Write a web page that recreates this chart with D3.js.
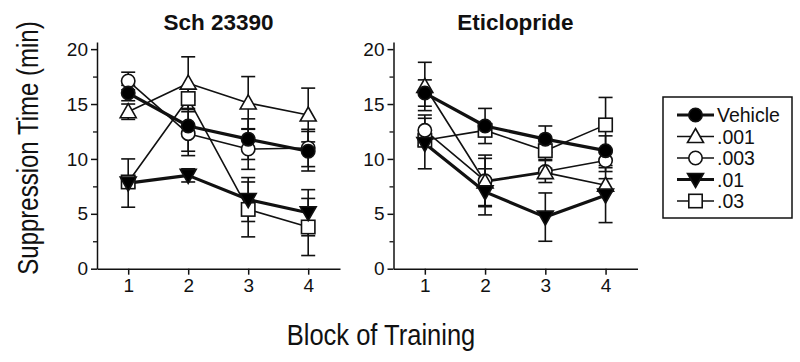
<!DOCTYPE html>
<html><head><meta charset="utf-8">
<script src="https://cdn.jsdelivr.net/npm/d3@7"></script>
<style>
body{margin:0;background:#fff;}
svg{display:block;font-family:"Liberation Sans",Arial,sans-serif;}
</style></head>
<body>
<svg id="c" width="800" height="362"></svg>
<script>
const blocks = [1, 2, 3, 4];
const seriesNames = ["Vehicle", ".001", ".003", ".01", ".03"];
const panelTitles = ["Sch 23390", "Eticlopride"];
const yTicks = [0, 5, 10, 15, 20];
const yMinorTicks = [2.5, 7.5, 12.5, 17.5];

// Sch 23390 means and SEM
const schVehicle = [16.0, 13.0, 11.8, 10.7];
const sch001 = [14.3, 16.9, 15.1, 14.0];
const sch003 = [17.1, 12.3, 10.9, 11.0];
const sch01 = [7.8, 8.5, 6.3, 5.1];
const sch03 = [7.9, 15.5, 5.4, 3.8];
const schVehicleErr = [0.7, 2.3, 1.85, 1.8];
const sch001Err = [0.7, 2.4, 2.4, 2.45];
const sch003Err = [0.8, 2.0, 1.85, 1.7];
const sch01Err = [2.2, 0.6, 2.0, 2.1];
const sch03Err = [0.5, 0.9, 2.5, 2.6];

// Eticlopride means and SEM
const etiVehicle = [16.0, 13.0, 11.8, 10.75];
const eti001 = [16.6, 7.9, 8.75, 7.6];
const eti003 = [12.6, 8.0, 8.85, 9.85];
const eti01 = [11.4, 7.0, 4.7, 6.7];
const eti03 = [11.7, 12.6, 10.75, 13.1];
const etiVehicleErr = [1.2, 1.6, 1.2, 1.35];
const eti001Err = [2.2, 2.15, 0.4, 0.6];
const eti003Err = [1.4, 2.35, 1.0, 1.0];
const eti01Err = [2.3, 2.1, 2.2, 2.5];
const eti03Err = [0.5, 0.5, 0.8, 2.5];

const panels = [
  {title: panelTitles[0], means: [schVehicle, sch001, sch003, sch01, sch03], errs: [schVehicleErr, sch001Err, sch003Err, sch01Err, sch03Err], x0: 97, x1: 340},
  {title: panelTitles[1], means: [etiVehicle, eti001, eti003, eti01, eti03], errs: [etiVehicleErr, eti001Err, eti003Err, eti01Err, eti03Err], x0: 393.5, x1: 637.5}
];

const styles = [
  {shape: "circle", fill: "#000", lw: 3.2},
  {shape: "up", fill: "#fff", lw: 1.6},
  {shape: "circle", fill: "#fff", lw: 1.6},
  {shape: "down", fill: "#000", lw: 3.2},
  {shape: "square", fill: "#fff", lw: 1.6}
];
const drawOrder = [4, 2, 1, 3, 0];

const svg = d3.select("#c");
const ink = "#111";

function drawMarker(g, shape, fill, cx, cy) {
  if (shape === "circle") {
    g.append("circle").attr("cx", cx).attr("cy", cy).attr("r", 6.7)
      .attr("fill", fill).attr("stroke", ink).attr("stroke-width", 1.6);
  } else if (shape === "square") {
    g.append("rect").attr("x", cx - 6.7).attr("y", cy - 6.7).attr("width", 13.4).attr("height", 13.4)
      .attr("fill", fill).attr("stroke", ink).attr("stroke-width", 1.6);
  } else if (shape === "up") {
    g.append("path").attr("d", `M${cx},${cy-8}L${cx+8},${cy+6}L${cx-8},${cy+6}Z`)
      .attr("fill", fill).attr("stroke", ink).attr("stroke-width", 1.6);
  } else if (shape === "down") {
    g.append("path").attr("d", `M${cx},${cy+8}L${cx+8},${cy-6}L${cx-8},${cy-6}Z`)
      .attr("fill", fill).attr("stroke", ink).attr("stroke-width", 1.6);
  }
}

const yTop = 42, yBot = 268.7;

panels.forEach(p => {
  const x = d3.scaleLinear().domain([0.48, 4.53]).range([p.x0, p.x1]);
  const y = d3.scaleLinear().domain([0, 20.65]).range([yBot, yTop]);
  const g = svg.append("g");

  const ya = g.append("g").attr("transform", `translate(${p.x0},0)`)
    .call(d3.axisLeft(y).tickValues(yTicks).tickSize(6).tickSizeOuter(0).tickPadding(3).tickFormat(d3.format("d")));
  ya.selectAll(".tick text").attr("font-size", 19).attr("fill", ink).attr("font-family", "Liberation Sans, Arial, sans-serif");
  ya.selectAll("line,path").attr("stroke", ink).attr("stroke-width", 1.5);
  const ym = g.append("g").attr("transform", `translate(${p.x0},0)`)
    .call(d3.axisLeft(y).tickValues(yMinorTicks).tickSize(4).tickFormat(""));
  ym.select(".domain").remove();
  ym.selectAll("line").attr("stroke", ink).attr("stroke-width", 1.3);

  const xa = g.append("g").attr("transform", `translate(0,${yBot})`)
    .call(d3.axisBottom(x).tickValues(blocks).tickSize(6).tickSizeOuter(0).tickPadding(4).tickFormat(d3.format("d")));
  xa.selectAll(".tick text").attr("font-size", 19).attr("fill", ink).attr("font-family", "Liberation Sans, Arial, sans-serif");
  xa.selectAll("line,path").attr("stroke", ink).attr("stroke-width", 1.5);

  g.append("text").attr("x", (p.x0 + p.x1) / 2).attr("y", 30)
    .attr("text-anchor", "middle").attr("font-weight", "bold").attr("font-size", 22.5).attr("fill", ink)
    .text(p.title);

  const eg = g.append("g");
  drawOrder.forEach(si => {
    p.means[si].forEach((m, i) => {
      const e = p.errs[si][i];
      const cx = x(blocks[i]);
      const t = y(m + e), b = y(m - e);
      eg.append("line").attr("x1", cx).attr("x2", cx).attr("y1", t).attr("y2", b).attr("stroke", ink).attr("stroke-width", 1.6);
      [t, b].forEach(yy => eg.append("line").attr("x1", cx - 7).attr("x2", cx + 7).attr("y1", yy).attr("y2", yy).attr("stroke", ink).attr("stroke-width", 1.6));
    });
  });

  const line = d3.line().x((d, i) => x(blocks[i])).y(d => y(d));
  drawOrder.forEach(si => {
    g.append("path").datum(p.means[si]).attr("d", line).attr("fill", "none")
      .attr("stroke", ink).attr("stroke-width", styles[si].lw).attr("stroke-linejoin", "round");
  });

  drawOrder.forEach(si => {
    p.means[si].forEach((m, i) => drawMarker(g, styles[si].shape, styles[si].fill, x(blocks[i]), y(m)));
  });
});

svg.append("text").attr("transform", "translate(38,148) rotate(-90) scale(1,1.2)")
  .attr("text-anchor", "middle").attr("font-size", 24).attr("fill", ink)
  .text("Suppression Time (min)");
svg.append("text").attr("transform", "translate(381,345) scale(0.88,1)")
  .attr("text-anchor", "middle").attr("font-size", 29).attr("fill", ink)
  .text("Block of Training");

const lg = svg.append("g");
lg.append("rect").attr("x", 663).attr("y", 97).attr("width", 129).attr("height", 121)
  .attr("fill", "#fff").attr("stroke", ink).attr("stroke-width", 1.5);
const legY = d3.scalePoint().domain(seriesNames).range([115, 201]);
seriesNames.forEach((name, si) => {
  const yy = legY(name);
  lg.append("line").attr("x1", 677).attr("x2", 714).attr("y1", yy).attr("y2", yy)
    .attr("stroke", ink).attr("stroke-width", styles[si].lw);
  drawMarker(lg, styles[si].shape, styles[si].fill, 695.5, yy);
  lg.append("text").attr("x", 717).attr("y", yy).attr("dy", "0.36em")
    .attr("font-size", 19.5).attr("fill", ink).text(name);
});
</script>
</body></html>
